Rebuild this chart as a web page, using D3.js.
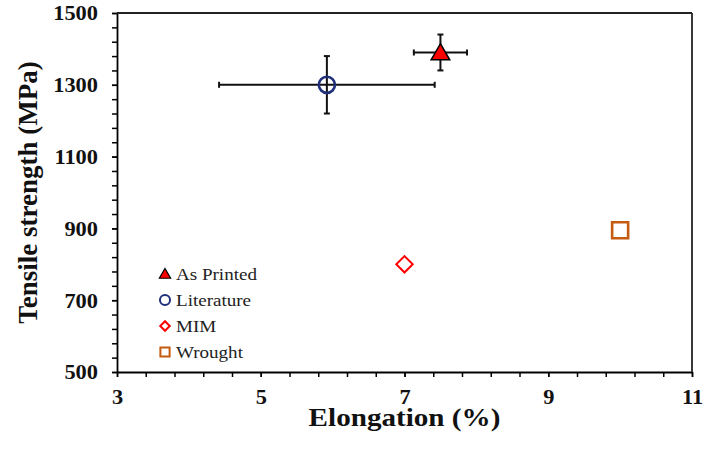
<!DOCTYPE html>
<html><head><meta charset="utf-8">
<script src="https://cdn.jsdelivr.net/npm/d3@7"></script>
<style>
html,body{margin:0;padding:0;background:#fff;}
svg{display:block;font-family:"Liberation Serif","Times New Roman",serif;}
</style></head>
<body><svg id="chart" width="704" height="459"></svg>
<script>
const seriesNames = ["As Printed", "Literature", "MIM", "Wrought"];
const elongation = [7.5, 5.92, 7.0, 10.0];
const strength = [1390, 1300, 800, 895];
const elongErr = [0.37, 1.5, 0, 0];
const strengthErr = [50, 80, 0, 0];
const xTicks = [3, 5, 7, 9, 11];
const yTicks = [500, 700, 900, 1100, 1300, 1500];

const W = 704, H = 459;
const m = {l: 117, r: 12, t: 13, b: 87};
const svg = d3.select("#chart");
const x = d3.scaleLinear().domain([3, 11]).range([m.l, W - m.r]);
const y = d3.scaleLinear().domain([500, 1500]).range([H - m.b, m.t]);
const stretch = 1.12;
function widen(sel) {
  sel.each(function() {
    const w = this.getComputedTextLength();
    d3.select(this).attr("textLength", w * stretch).attr("lengthAdjust", "spacingAndGlyphs");
  });
}

// minor ticks
const xMinor = d3.range(3, 11.001, 0.4);
const yMinor = d3.range(500, 1500.1, 40);
svg.append("g").attr("transform", `translate(0,${H - m.b})`)
  .call(d3.axisBottom(x).tickValues(xMinor).tickSize(5).tickFormat(""))
  .call(g => g.select(".domain").remove())
  .selectAll("line").attr("stroke", "#000").attr("stroke-width", 1.5);
svg.append("g").attr("transform", `translate(${m.l},0)`)
  .call(d3.axisLeft(y).tickValues(yMinor).tickSize(5).tickFormat(""))
  .call(g => g.select(".domain").remove())
  .selectAll("line").attr("stroke", "#000").attr("stroke-width", 1.5);

// major axes with labels
const xAx = svg.append("g").attr("transform", `translate(0,${H - m.b})`)
  .call(d3.axisBottom(x).tickValues(xTicks).tickFormat(d3.format("d")).tickSize(5).tickSizeOuter(0).tickPadding(13));
const yAx = svg.append("g").attr("transform", `translate(${m.l},0)`)
  .call(d3.axisLeft(y).tickValues(yTicks).tickFormat(d3.format("d")).tickSize(5).tickSizeOuter(0).tickPadding(14));
[xAx, yAx].forEach(g => {
  g.attr("font-family", null).attr("font-size", null);
  g.select(".domain").attr("stroke", "#000").attr("stroke-width", 1.8);
  g.selectAll("line").attr("stroke", "#000").attr("stroke-width", 1.5);
  g.selectAll("text").attr("font-weight", "bold")
    .attr("font-size", 20).attr("fill", "#111").call(widen);
});
yAx.selectAll("text").attr("dy", "0.34em");

// top and right border
svg.append("line").attr("x1", x(3)).attr("x2", x(11)).attr("y1", y(1500)).attr("y2", y(1500))
  .attr("stroke", "#222").attr("stroke-width", 1.8);
svg.append("line").attr("x1", x(11)).attr("x2", x(11)).attr("y1", y(1500)).attr("y2", y(500))
  .attr("stroke", "#222").attr("stroke-width", 1.8);

// axis titles
svg.append("text").attr("x", (x(3) + x(11)) / 2).attr("y", 426).attr("text-anchor", "middle")
  .attr("font-weight", "bold").attr("font-size", 26).attr("fill", "#111").text("Elongation (%)").call(widen);
svg.append("text").attr("transform", `translate(37,${(y(500) + y(1500)) / 2}) rotate(-90)`)
  .attr("text-anchor", "middle").attr("font-weight", "bold").attr("font-size", 27).attr("fill", "#111")
  .text("Tensile strength (MPa)");

// error bars
const eb = svg.append("g").attr("stroke", "#111").attr("stroke-width", 2);
const cap = 3;
seriesNames.forEach((n, i) => {
  if (elongErr[i] > 0) {
    const cy = y(strength[i]);
    eb.append("line").attr("x1", x(elongation[i] - elongErr[i])).attr("x2", x(elongation[i] + elongErr[i]))
      .attr("y1", cy).attr("y2", cy);
    [-1, 1].forEach(s => eb.append("line").attr("x1", x(elongation[i] + s * elongErr[i])).attr("x2", x(elongation[i] + s * elongErr[i]))
      .attr("y1", cy - cap).attr("y2", cy + cap));
  }
  if (strengthErr[i] > 0) {
    const cx = x(elongation[i]);
    eb.append("line").attr("x1", cx).attr("x2", cx)
      .attr("y1", y(strength[i] - strengthErr[i])).attr("y2", y(strength[i] + strengthErr[i]));
    [-1, 1].forEach(s => eb.append("line").attr("x1", cx - cap).attr("x2", cx + cap)
      .attr("y1", y(strength[i] + s * strengthErr[i])).attr("y2", y(strength[i] + s * strengthErr[i])));
  }
});

// marker styles
const styles = [
  {type: d3.symbolTriangle, fill: "#ff0000", stroke: "#000", sw: 1.5, rot: 0},
  {type: d3.symbolCircle, fill: "none", stroke: "#1f2f7a", sw: 2.6, rot: 0},
  {type: d3.symbolSquare, fill: "none", stroke: "#ff0000", sw: 2, rot: 45},
  {type: d3.symbolSquare, fill: "none", stroke: "#c55a11", sw: 2.6, rot: 0}
];
const bigSizes = [150, 205, 135, 256];
const smallSizes = [55, 80, 45, 85];

seriesNames.forEach((n, i) => {
  const st = styles[i];
  svg.append("path").attr("d", d3.symbol().type(st.type).size(bigSizes[i])())
    .attr("transform", `translate(${x(elongation[i])},${y(strength[i]) + (i === 0 ? 2 : 0)}) rotate(${st.rot})`)
    .attr("fill", st.fill).attr("stroke", st.stroke).attr("stroke-width", st.sw);
});

// legend
const lg = svg.append("g");
seriesNames.forEach((n, i) => {
  const st = styles[i];
  const ly = 274 + i * 26;
  lg.append("path").attr("d", d3.symbol().type(st.type).size(smallSizes[i])())
    .attr("transform", `translate(165,${ly + (i === 0 ? 1 : 0)}) rotate(${st.rot})`)
    .attr("fill", st.fill).attr("stroke", st.stroke).attr("stroke-width", i === 0 ? 1.2 : 2);
  lg.append("text").attr("x", 176).attr("y", ly).attr("dy", "0.35em")
    .attr("font-size", 17).attr("fill", "#222").text(n).call(widen);
});
</script></body></html>
